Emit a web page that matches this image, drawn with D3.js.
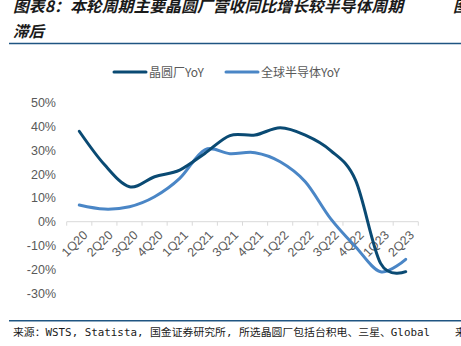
<!DOCTYPE html>
<html><head><meta charset="utf-8">
<script src="https://cdn.jsdelivr.net/npm/d3@7"></script>
<style>
html,body{margin:0;padding:0;background:#fff;overflow:hidden;}
svg{display:block;}
</style></head>
<body>
<script>
const categories = ["1Q20","2Q20","3Q20","4Q20","1Q21","2Q21","3Q21","4Q21","1Q22","2Q22","3Q22","4Q22","1Q23","2Q23"];
const fabYoY  = [38.0, 24.0, 14.7, 18.9, 21.7, 28.7, 36.2, 36.4, 39.5, 36.4, 30.0, 17.5, -17.5, -21.0];
const semiYoY = [7.0, 5.3, 6.3, 10.5, 18.2, 30.2, 28.6, 29.0, 25.2, 16.8, 1.4, -10.5, -21.0, -15.8];
const seriesNames = ["晶圆厂YoY","全球半导体YoY"];
const yTicks = [50,40,30,20,10,0,-10,-20,-30];

const W = 461, H = 346;
const svg = d3.select("body").append("svg").attr("width", W).attr("height", H);
const cjk = "'Noto Sans CJK SC','Noto Sans',sans-serif";

// Title (italic via skew)
function titleText(tx, ty, str, len) {
  const t = svg.append("text").attr("transform", `translate(${tx},${ty}) skewX(-14)`)
    .attr("font-family", cjk).attr("font-size", 15.5).attr("font-weight", "bold")
    .attr("fill", "#1a1a1a").text(str);
  if (len) t.attr("textLength", len).attr("lengthAdjust", "spacingAndGlyphs");
}
titleText(13, 12, "图表8：本轮周期主要晶圆厂营收同比增长较半导体周期", 390);
titleText(453, 12, "图");
titleText(13, 37, "滞后");
svg.append("line").attr("x1", 9).attr("x2", W).attr("y1", 43.5).attr("y2", 43.5)
  .attr("stroke", "#1f5582").attr("stroke-width", 1.6);

// Scales
const x = d3.scaleBand().domain(categories).range([66.7, 418.3]);
const y = d3.scaleLinear().domain([-30, 50]).range([293.1, 102.7]);

// Y labels
const yAxis = d3.axisLeft(y).tickValues(yTicks).tickFormat(d => d + "%").tickSize(0).tickPadding(0);
const gy = svg.append("g").attr("transform", "translate(56,0)").call(yAxis);
gy.select(".domain").remove();
gy.selectAll("text").attr("font-family", "'Liberation Sans',Arial,sans-serif").attr("font-size", 12.5).attr("fill", "#595959");

// X axis at 0
const gx = svg.append("g").attr("transform", `translate(0,${y(0)})`);
gx.append("line").attr("x1", x.range()[0]).attr("x2", x.range()[1]).attr("stroke", "#d9d9d9").attr("stroke-width", 1);
const bounds = categories.map(c => x(c)).concat([x.range()[1]]);
gx.selectAll("line.tk").data(bounds).join("line").attr("class","tk")
  .attr("x1", d => d).attr("x2", d => d).attr("y1", 0).attr("y2", 4)
  .attr("stroke", "#d9d9d9").attr("stroke-width", 1);
gx.selectAll("text.xl").data(categories).join("text").attr("class","xl")
  .attr("transform", d => `translate(${x(d) + x.bandwidth()/2 + 3},8) rotate(-45)`)
  .attr("text-anchor", "end").attr("dy", "0.7em")
  .attr("font-family", "'Liberation Sans',Arial,sans-serif").attr("font-size", 12.5).attr("fill", "#595959")
  .text(d => d);

// Lines
const line = d3.line()
  .x((d, i) => x(categories[i]) + x.bandwidth()/2)
  .y(d => y(d))
  .curve(d3.curveCardinal.tension(0));
const colors = ["#0a4a73", "#4a86c6"];
svg.append("path").datum(semiYoY).attr("d", line).attr("fill","none")
  .attr("stroke", colors[1]).attr("stroke-width", 3).attr("stroke-linecap","round");
svg.append("path").datum(fabYoY).attr("d", line).attr("fill","none")
  .attr("stroke", colors[0]).attr("stroke-width", 3).attr("stroke-linecap","round");

// Legend
const legend = [{name: seriesNames[0], c: colors[0], x: 114}, {name: seriesNames[1], c: colors[1], x: 226}];
const lg = svg.append("g");
legend.forEach(l => {
  lg.append("line").attr("x1", l.x).attr("x2", l.x + 32).attr("y1", 72).attr("y2", 72)
    .attr("stroke", l.c).attr("stroke-width", 3).attr("stroke-linecap","round");
  lg.append("text").attr("x", l.x + 35).attr("y", 76.5)
    .attr("font-family", cjk).attr("font-size", 12).attr("fill", "#595959").text(l.name);
});

// Footer
svg.append("line").attr("x1", 9).attr("x2", W).attr("y1", 320.7).attr("y2", 320.7)
  .attr("stroke", "#1f5582").attr("stroke-width", 1.6);
svg.append("text").attr("x", 13).attr("y", 336)
  .attr("font-family", "'DejaVu Sans Mono','Noto Sans CJK SC',monospace").attr("font-size", 10.5).attr("fill", "#1a1a1a")
  .attr("textLength", 417).attr("lengthAdjust","spacingAndGlyphs")
  .text("来源：WSTS, Statista, 国金证券研究所, 所选晶圆厂包括台积电、三星、Global");
svg.append("text").attr("x", 455).attr("y", 336)
  .attr("font-family", cjk).attr("font-size", 10.5).attr("fill", "#1a1a1a").text("来");
</script>
</body></html>
